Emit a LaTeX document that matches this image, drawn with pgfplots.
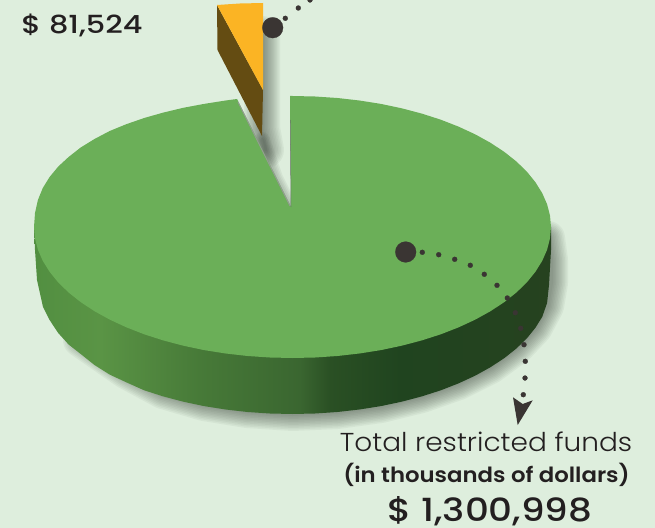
\documentclass[border=0pt]{standalone}
\usepackage{pgfplots}
\pgfplotsset{compat=1.18}
\usepackage{fontspec}
\setmainfont{Poppins}
\newfontfamily\lightfont{Poppins}[UprightFont=* Light]
\newfontfamily\mediumfont{Poppins}[UprightFont=* Medium]
\newfontfamily\strongfont{Poppins}[UprightFont=* SemiBold]
\definecolor{paper}{HTML}{DEEEDD}
\definecolor{facegreen}{HTML}{6BAF58}
\definecolor{goldface}{HTML}{FBB424}
\definecolor{goldside}{HTML}{644C12}
\definecolor{ink}{HTML}{3A3533}
\definecolor{textink}{HTML}{231F20}
\definecolor{soft}{HTML}{2A352A}
\definecolor{wallA}{HTML}{528F41}
\definecolor{wallB}{HTML}{5A9445}
\definecolor{wallC}{HTML}{477A38}
\definecolor{wallD}{HTML}{3A6630}
\definecolor{wallE}{HTML}{2A5024}
\definecolor{wallF}{HTML}{20441F}
\definecolor{wallG}{HTML}{26421F}
\pgfdeclarehorizontalshading{pieside}{100bp}{
  color(0bp)=(wallA);
  color(25bp)=(wallA);
  color(31.4bp)=(wallB);
  color(41bp)=(wallC);
  color(50.7bp)=(wallD);
  color(53.6bp)=(wallE);
  color(60.4bp)=(wallF);
  color(75bp)=(wallG);
  color(100bp)=(wallG)}
\begin{document}
\begin{tikzpicture}
\begin{axis}[
  scale only axis, width=655bp, height=528bp,
  xmin=0, xmax=655, ymin=0, ymax=528, y dir=reverse,
  axis line style={draw=none}, ticks=none,
  axis background/.style={fill=paper},
  every axis plot/.append style={no markers},
]
% soft shadow below and to the right of the disc
\pgfplotsinvokeforeach{34,31,28,25,22,19,16,13,10,7,4}{
  \addplot[draw=soft, line width=#1bp, opacity=0.05, line cap=round, line join=round]
    coordinates {(80,340) (126,372) (163,392) (204,404) (247,411) (292.5,414) (337.4,412)
      (380.9,406) (421.8,396) (458.7,383) (490.5,367) (516.4,348) (535.4,328) (547.1,306)
      (551,283) (551,260) (548,238)};
}
% soft shadow cast by the lifted slice
\pgfplotsinvokeforeach{36,33,30,27,24,21,18,15,12,9,6,3}{
  \addplot[draw=soft, line width=#1bp, opacity=0.05, line cap=round, line join=round]
    coordinates {(262,34) (262,90) (262,128) (266,150)};
}
\pgfplotsinvokeforeach{16,13,10,7,4}{
  \addplot[draw=soft, line width=#1bp, opacity=0.06, line cap=round, line join=round]
    coordinates {(262,140) (275,178) (288,204)};
}
% side wall of the disc
\addplot[draw=none, shade, shading=pieside] coordinates {
  (34,227) (35,250) (37,280) (43,307) (49.6,320) (58.2,333) (68.6,344.5)
  (80.7,354) (94.5,365) (109.7,374.6) (126.3,382.3) (144.2,390.3) (163.2,396.4)
  (183.3,401.7) (204.1,406.1) (225.6,409.5) (247.6,412) (270,413.5) (292.5,414)
  (315,413.5) (337.4,412) (359.4,409.5) (380.9,406.1) (401.7,401.7) (421.8,396.4)
  (440.8,390.3) (458.7,383.3) (475.3,375.6) (490.5,367.2) (504.3,358.1) (516.4,348.5)
  (526.8,338.4) (535.4,327.8) (542.2,316.9) (547.1,303) (549,285) (551,250) (551,227)};
% top face of the disc, with the notch the slice came out of
\addplot[draw=none, fill=facegreen] coordinates {
  (551,227) (550,238.4) (547.1,249.7) (542.2,260.9) (535.4,271.8) (526.8,282.4)
  (516.4,292.5) (504.3,302.1) (490.5,311.2) (475.3,319.6) (458.7,327.3) (440.8,334.3)
  (421.8,340.4) (401.7,345.7) (380.9,350.1) (359.4,353.5) (337.4,356) (315,357.5)
  (292.5,358) (270,357.5) (247.6,356) (225.6,353.5) (204.1,350.1) (183.3,345.7)
  (163.2,340.4) (144.2,334.3) (126.3,327.3) (109.7,319.6) (94.5,311.2) (80.7,302.1)
  (68.6,292.5) (58.2,282.4) (49.6,271.8) (42.8,260.9) (37.9,249.7) (35,238.4) (34,227)
  (35,213) (37.9,200) (42.8,188) (49.6,177) (58.2,166.6) (68.6,157)
  (80.7,147.5) (94.5,139) (109.7,131) (126.3,124.2) (144.2,118) (163.2,112.6)
  (183.3,107.8) (204.1,103.9) (225.6,100.5) (237,99) (291,207) (290,96) (292.5,96)
  (315,96.5) (337.4,98) (359.4,100.5) (380.9,103.9) (401.7,108.3) (421.8,113.6)
  (440.8,119.7) (458.7,126.7) (475.3,134.4) (490.5,142.8) (504.3,151.9) (516.4,161.5)
  (526.8,171.6) (535.4,182.2) (542.2,193.1) (547.1,204.3) (550,215.6)};
% fine edges along the notch
\addplot[draw=soft!70, line width=0.5bp] coordinates {(290.3,120) (291,207)};
\addplot[draw=gray!80, line width=0.7bp] coordinates {(238,102) (290,206)};
% the lifted slice
\addplot[draw=none, fill=goldside] coordinates {(217,5) (263,90) (262,136) (217.5,50)};
\addplot[draw=none, fill=goldface] coordinates {(217,5) (240,3.5) (263,3) (263,90)};
% leader dots
\addplot[only marks, mark=*, mark size=2.5bp, mark options={draw=ink, fill=ink, line width=0.2bp}] coordinates {
  (285.3,18.3) (298.3,8) (310,0)
  (422.3,252.3) (438.7,254.7) (454.7,259.3) (470.3,265.3) (484.3,274.3) (497,285.3)
  (507.3,298) (515.3,312.7) (520.7,328.3) (524,344.7) (525.3,361.3) (525,378) (523.3,394.7)};
\addplot[only marks, mark=*, mark size=10.4bp, mark options={draw=ink, fill=ink, line width=0.2bp}] coordinates {
  (272.7,27.7) (405.7,252)};
% arrow head closing the lower leader
\addplot[draw=none, fill=ink] coordinates {(513,397.3) (522.7,404) (532.7,400.3) (517.7,425)};
% labels
\node[anchor=base, text=textink, inner sep=0pt] at (axis cs:82,34) {\scalebox{1.22}[1]{\fontsize{25}{25}\selectfont\mediumfont \$ 81,524}};
\node[anchor=base, text=textink, inner sep=0pt] at (axis cs:486,451) {\scalebox{1.08}[1]{\fontsize{26}{26}\selectfont\lightfont Total restricted funds}};
\node[anchor=base, text=textink, inner sep=0pt] at (axis cs:486.5,482) {\scalebox{1.09}[1]{\fontsize{21}{21}\selectfont\strongfont (in thousands of dollars)}};
\node[anchor=base, text=textink, inner sep=0pt] at (axis cs:490,521.5) {\scalebox{1.17}[1]{\fontsize{32}{32}\selectfont\mediumfont \$ 1,300,998}};
\end{axis}
% the page is exactly the plot area
\pgfresetboundingbox
\useasboundingbox (0,0) rectangle (655bp,528bp);
\end{tikzpicture}
\end{document}
